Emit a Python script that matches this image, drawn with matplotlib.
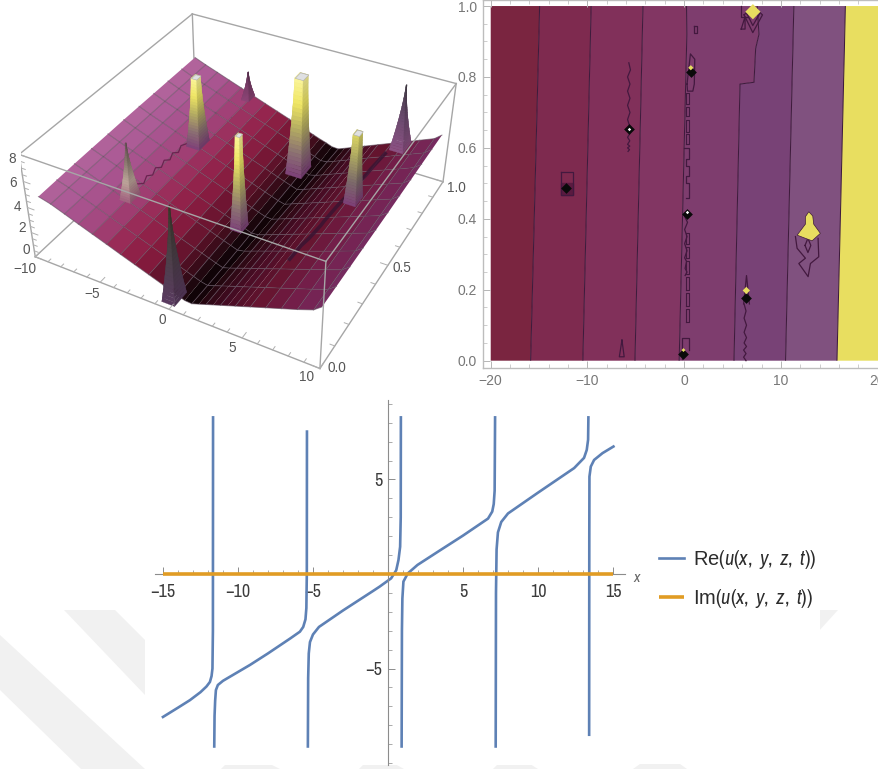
import numpy as np, matplotlib
matplotlib.use('Agg')
import matplotlib.pyplot as plt
from matplotlib.colors import LinearSegmentedColormap as LSC
from matplotlib.patches import Polygon
from matplotlib.ticker import MultipleLocator
from mpl_toolkits.mplot3d.art3d import Poly3DCollection

W, H = 879, 769
NARROW = ['Archivo Narrow', 'Liberation Sans']
plt.rcParams['font.family'] = ['Liberation Sans', 'DejaVu Sans']
plt.rcParams['mathtext.fontset'] = 'custom'
plt.rcParams['mathtext.rm'] = 'Archivo Narrow'
plt.rcParams['mathtext.it'] = 'Archivo Narrow:italic'

# ---------- 3D surface values ----------
surf_x = [-9.9,-9,-8,-7,-6,-5,-4,-3,-2,-1,-.5,0,.5,1,1.5,2,2.5,3,3.5,4,4.5,5,6,7,8,9,9.5]
surf_y = [.05,.145,.24,.335,.43,.525,.62,.715,.81,.905,1]
surf_z = [
 [4.2,3.95,3.55,3.14,2.74,2.34,1.93,1.53,1.13,.73,.52,.32,.12,.08,.27,.47,.66,.86,1.05,1.25,1.44,1.64,2.03,2.42,2.81,3.24,3.7],
 [4.25,3.96,3.56,3.16,2.76,2.36,1.96,1.56,1.16,.76,.56,.36,.16,.04,.24,.44,.64,.83,1.03,1.23,1.43,1.63,2.02,2.42,2.82,3.25,3.7],
 [4.3,3.97,3.57,3.18,2.78,2.38,1.99,1.59,1.19,.79,.6,.4,.2,.02,.2,.4,.61,.81,1.01,1.21,1.41,1.62,2.02,2.42,2.83,3.25,3.7],
 [4.33,3.98,3.59,3.19,2.8,2.4,2.01,1.62,1.22,.83,.63,.43,.24,.04,.16,.37,.58,.78,.99,1.19,1.4,1.6,2.01,2.42,2.84,3.26,3.7],
 [4.35,3.99,3.6,3.21,2.82,2.42,2.03,1.64,1.25,.86,.67,.47,.27,.08,.13,.33,.54,.75,.96,1.17,1.38,1.59,2.01,2.43,2.84,3.26,3.7],
 [4.38,4.0,3.61,3.22,2.83,2.44,2.06,1.67,1.28,.89,.7,.5,.31,.13,.09,.3,.51,.72,.94,1.15,1.36,1.57,2.0,2.42,2.85,3.27,3.7],
 [4.39,4.0,3.62,3.23,2.85,2.46,2.08,1.69,1.31,.92,.73,.54,.35,.17,.04,.26,.48,.69,.91,1.12,1.34,1.56,1.99,2.42,2.85,3.28,3.72],
 [4.39,4.01,3.63,3.25,2.87,2.48,2.1,1.72,1.34,.96,.76,.57,.38,.2,.02,.22,.44,.66,.88,1.1,1.32,1.54,1.98,2.41,2.85,3.29,3.73],
 [4.4,4.02,3.64,3.26,2.88,2.5,2.12,1.74,1.36,.98,.79,.61,.42,.24,.04,.18,.4,.62,.85,1.07,1.29,1.52,1.96,2.41,2.85,3.3,3.75],
 [4.4,4.02,3.65,3.27,2.89,2.52,2.14,1.77,1.39,1.02,.83,.64,.45,.28,.08,.14,.36,.59,.82,1.04,1.27,1.5,1.95,2.4,2.85,3.31,3.76],
 [4.4,4.03,3.66,3.28,2.91,2.54,2.16,1.79,1.42,1.04,.86,.67,.48,.32,.12,.09,.32,.55,.78,1.01,1.24,1.47,1.93,2.39,2.85,3.31,3.77],
]
# peaks, back to front
peak_x   = [-5.2, -5.45, .75, -6.15, 6.65, .2, 6.25, -.1]
peak_y   = [.98, .64, .80, .27, 1.0, .42, .64, .04]
peak_z0  = [2.5, 2.5, .3, 2.6, 1.9, .4, 1.9, .3]
peak_z1  = [4.7, 7.85, 8.0, 6.8, 6.9, 7.7, 7.2, 7.3]
peak_wx  = [.3, .5, .6, .4, .5, .4, .42, .45]
peak_wy  = [.025, .035, .04, .03, .04, .025, .03, .035]
peak_tx  = [.02, .2, .3, .02, .02, .14, .2, .02]
peak_ty  = [.002, .014, .02, .002, .002, .01, .015, .002]
YEL = ['#7d4078', '#8c7272', '#b5ad62', '#efe664', '#fbf59a']
peak_cols = [['#8c4476', '#7a3e68', '#5c3152'], YEL, YEL,
             ['#a0607e', '#bda69a', '#8c7a70', '#6a5458'],
             ['#8c5284', '#6b4a6e', '#403a44'], YEL,
             ['#7d4078', '#7c6a6a', '#a8a262', '#dcd664'],
             ['#5a3a60', '#4c4048', '#3c3c2c']]
peak_cap = [False, True, True, False, False, True, True, False]
# ripples on the slopes (x, y, z)
rip1_x = [5.05,5.25,5.2,5.45,5.3,5.5,5.4,5.6,5.5,5.7,5.6,5.8,5.7,5.95]
rip1_y = [.30,.36,.42,.48,.52,.56,.6,.64,.68,.72,.76,.8,.86,.95]
rip1_z = [1.5,1.8,1.45,1.75,1.45,1.75,1.5,1.75,1.45,1.7,1.45,1.7,1.45,1.65]
rip2_x = [-6.2,-6.0,-6.15,-5.95,-6.1,-5.9,-6.05,-5.85,-6.0,-5.8,-5.95,-5.75]
rip2_y = [.32,.34,.37,.39,.42,.44,.47,.49,.52,.54,.57,.6]
rip2_z = [2.95,2.8,2.97,2.85,3.0,2.85,3.0,2.85,3.0,2.85,3.0,2.9]

# ---------- contour values ----------
cont_y = [0, .78, .785, .88, .92, 1]
cont_edges = [
 [-20, -15.88, -10.48, -5.09, -.52, 5.15, 10.48, 15.8, 20.2],
 [-20, -15.15, -9.81, -4.44, .15, 5.77, 11.15, 16.48, 20.2],
 [-20, -15.15, -9.81, -4.44, .15, 7.22, 11.15, 16.48, 20.2],
 [-20, -15.06, -9.72, -4.36, .24, 7.39, 11.24, 16.57, 20.2],
 [-20, -15.02, -9.69, -4.33, .27, 7.73, 11.27, 16.6, 20.2],
 [-20, -14.95, -9.62, -4.26, .24, 7.56, 11.34, 16.67, 20.2],
]
cont_colors = ['#7a2540', '#7e2a4f', '#81305a', '#823663', '#7e3d6e', '#784276', '#80517f', '#e8de60']
blob_x = [11.68, 12.54, 12.54, 12.89, 13.3, 13.4, 14.09, 13.23, 12.54]
blob_y = [.354, .385, .406, .42, .408, .385, .359, .338, .345]
islands = [
 ([-12.78, -11.51, -11.51, -12.78, -12.78], [.533, .533, .467, .467, .533]),
 ([-5.72, -5.55, -5.85, -5.6, -5.85, -5.6, -5.85, -5.6, -5.85, -5.62, -5.85, -5.62, -5.85, -5.62, -5.85, -5.62, -5.85, -5.65, -5.8],
  [.84, .82, .80, .78, .76, .74, .72, .70, .68, .66, .65, .64, .63, .62, .61, .605, .60, .595, .59]),
 ([11.51, 11.68, 12.54, 11.86, 12.82, 13.06, 13.92, 13.85], [.35, .317, .289, .274, .237, .274, .293, .345]),
 ([12.5, 12.8, 13.1, 12.8, 12.5], [.325, .345, .325, .305, .325]),
 ([-6.43, -6.7, -6.2, -6.43], [.058, .011, .011, .058]),
 ([1.0, 1.3, 1.3, 1.0, 1.0], [.945, .945, .925, .925, .945]),
 ([6.2, 7.1, 8.1, 7.1, 6.2], [.975, .925, .975, 1.0, .975]),
 ([6.5, 7.1, 7.8, 7.1, 6.5], [.978, .945, .978, 1.0, .978]),
 ([5.9, 6.3, 6.3, 5.9], [.935, .97, .935, .935]),
 ([5.9, 5.9, 6.6], [1.0, .97, .97]),
 ([.3, .65, 1.1, 1.05, .9, .35, .3], [.78, .865, .85, .78, .76, .76, .78]),
 ([-.2, -.2, .55, .55], [.005, .065, .065, .03]),
 ([6.15, 6.45, 6.75], [.16, .24, .16]),
 ([6.2, 6.4, 6.2, 6.45, 6.2, 6.45, 6.2, 6.45, 6.15, 6.4, 6.15, 6.4], [.16, .14, .12, .10, .08, .065, .05, .04, .03, .02, .01, 0]),
 ([.0, .35, .05, .3, .05, .3, .05, .25, .1, .3, .1], [.41, .39, .37, .35, .33, .31, .29, .28, .26, .25, .24]),
 ([.0, .5, .5, .15, .15, .5, .5, .2, .2, .55, .55, .15], [.6, .6, .57, .57, .55, .55, .52, .52, .5, .5, .46, .46]),
]
chain_y0 = [.11, .155, .2, .245, .29, .33, .61, .645, .69, .725]
chain_y1 = [.145, .19, .235, .28, .32, .36, .64, .68, .715, .755]
black_x = [-12.2, -5.74, .28, .69, -.07, 6.43]
black_y = [.486, .652, .415, .815, .018, .178]
white_x = [-5.74, .28]
white_y = [.652, .418]
yellow_x = [.69, -.07, 6.43, 7.11]
yellow_y = [.826, .03, .198, .984]
yellow_s = [7, 4, 14, 60]

# ---------- line chart values ----------
re_x = [
 [-15,-14,-13.2,-12.5,-12.1,-11.87,-11.76,-11.7,-11.67,-11.66],
 [-11.58,-11.56,-11.52,-11.47,-11.34,-11.0,-10.68,-9.2,-8,-6.5,-5.87,-5.65,-5.5,-5.44,-5.41,-5.4],
 [-5.34,-5.32,-5.28,-5.2,-5.0,-4.6,-3,-1,-.56,.21,.55,.7,.81,.85,.86],
 [.91,.93,.96,1.03,1.32,1.97,3.43,5,6.67,6.95,7.05,7.11,7.14],
 [7.18,7.2,7.24,7.33,7.55,8,10,12.41,13.07,13.25,13.34,13.36],
 [13.41,13.42,13.43,13.52,13.74,14.3,15.03],
]
re_y = [
 [-7.56,-7.07,-6.67,-6.25,-5.95,-5.71,-5.4,-5.0,-3,8.28],
 [-9.12,-7.5,-6.7,-6.14,-5.87,-5.65,-5.5,-4.81,-4.2,-3.4,-3.05,-2.8,-2.4,-1.8,0,7.53],
 [-9.12,-5.5,-4.2,-3.6,-3.2,-2.8,-1.93,-.9,-.67,-.23,.2,.74,1.44,3,8.28],
 [-9.12,-3,-1.3,-.4,.03,.48,1.23,2.03,2.93,3.3,3.7,4.4,8.28],
 [-9.12,-1,1.3,2.2,2.75,3.2,4.3,5.6,6.14,6.56,7.1,8.28],
 [-8.5,2,5.15,5.68,6.03,6.39,6.74],
]
im_x = [-15, 15]
im_y = [0, 0]
x_major = [-15, -10, -5, 5, 10, 15]
y_major = [-5, 5]
x_major_labels = ['\u221215', '\u221210', '\u22125', '5', '10', '15']
y_major_labels = ['\u22125', '5']
legend_labels = [r'Re$(u(x,\ y,\ z,\ t))$', r'Im$(u(x,\ y,\ z,\ t))$']

fig = plt.figure(figsize=(W/100, H/100), dpi=100, facecolor='white')
def fx(p): return p/W
def fy(p): return 1-p/H
def ptext(px, py, s, **kw):
    kw.setdefault('ha', 'center'); kw.setdefault('va', 'center')
    fig.text(fx(px), fy(py), s, **kw)

# watermark shapes behind everything
for poly in [[(64,610),(115,610),(145,640),(145,695)], [(0,635),(0,690),(81,769),(145,769)],
             [(221,769),(226,764),(270,764),(280,769)], [(359,769),(364,764),(395,764),(404,769)],
             [(493,769),(498,764),(530,764),(538,769)], [(633,769),(640,764),(680,764),(687,769)],
             [(818,610),(838,610),(818,632)]]:
    fig.add_artist(Polygon([(fx(a), fy(b)) for a, b in poly], closed=True, transform=fig.transFigure,
                           facecolor='#f1f1f1', edgecolor='none', zorder=-5))

# ---------- panel 1: 3D ----------
S, TX, TY = 2391.82, 248.186, 169.167
ax3 = fig.add_axes([0, 0, 1, 1], projection='3d', computed_zorder=False)
ax3.patch.set_alpha(0)
ax3.set_xlim(-10, 10); ax3.set_ylim(0, 1); ax3.set_zlim(0, 8)
ax3.view_init(36.3443, -61.387, 0.0768)
ax3.set_proj_type('persp', focal_length=.4451)
ax3.set_box_aspect((1.0068, 1, .4024))
vx0, vy0, vw, vh = ax3.viewLim.bounds
left = TX + S*vx0
top = TY - S*(vy0+vh)
size = S*vw
ax3.set_position([fx(left), fy(top+size), size/W, size/H])
ax3.set_axis_off()

X, Y = np.meshgrid(surf_x, surf_y)
Z = np.array(surf_z)
left_cm = LSC.from_list('l', [(0,'#070103'),(.06,'#220810'),(.14,'#4a0e20'),(.28,'#80193a'),(.45,'#972650'),(.62,'#a2457c'),(.8,'#aa5894'),(1,'#b4689e')])
right_cm = LSC.from_list('r', [(0,'#070103'),(.1,'#2a0812'),(.25,'#470c24'),(.45,'#66142f'),(.7,'#751f4c'),(.88,'#762a5e'),(1,'#7a3068')])
fc = np.zeros(Z.shape + (4,))
valley = Z.argmin(axis=1)
for r in range(Z.shape[0]):
    for c in range(Z.shape[1]):
        zc = Z[r, c]
        if c < Z.shape[1]-1 and r < Z.shape[0]-1:
            zc = Z[r:r+2, c:c+2].mean()
        fc[r, c] = left_cm(zc/4.5) if c < valley[r] else right_cm(zc/3.9)
box = '#a6a6a6'
back_edges = [((-10,1,0),(10,1,0)), ((-10,0,0),(-10,1,0)), ((-10,1,0),(-10,1,8)), ((10,1,0),(10,1,8))]
front_edges = [((-10,0,0),(10,0,0)), ((10,0,0),(10,1,0)), ((-10,0,0),(-10,0,8)), ((10,0,0),(10,0,8)),
               ((-10,0,8),(10,0,8)), ((10,0,8),(10,1,8)), ((-10,1,8),(10,1,8)), ((-10,0,8),(-10,1,8))]
for a, b in back_edges:
    ax3.plot(*zip(a, b), color=box, lw=1.0, zorder=1)
ax3.plot_surface(X, Y, Z, facecolors=fc, rstride=1, cstride=1, shade=False, linewidth=0.25,
                 edgecolor=None, antialiased=True, zorder=2)
for c in range(0, Z.shape[1]):
    if surf_x[c] in (-.5, .5, 1.5, 2.5, 3.5, 4.5, 9.5, -9.9):
        continue
    ax3.plot(X[:, c], Y[:, c], Z[:, c], color='#5c4a5a', alpha=.6, lw=.7, zorder=3)
for r in range(Z.shape[0]):
    ax3.plot(X[r], Y[r], Z[r], color='#5c4a5a', alpha=.6, lw=.7, zorder=3)
ax3.plot(rip1_x, rip1_y, rip1_z, color='#3a1432', alpha=.85, lw=2.6, zorder=4)
ax3.plot(rip2_x, rip2_y, rip2_z, color='#6a2450', lw=.9, zorder=4)

ring = np.array([[-1,-1],[1,-1],[1,1],[-1,1],[-1,-1]], float)
side_shade = [1.0, .85, .8, .95, 1.0]
t = np.linspace(0, 1, 25)
for i in range(len(peak_x)):
    cm = LSC.from_list('p%d' % i, peak_cols[i])
    w = (1-t)**1.5
    wx = peak_tx[i] + (peak_wx[i]-peak_tx[i])*w
    wy = peak_ty[i] + (peak_wy[i]-peak_ty[i])*w
    PX = peak_x[i] + np.outer(wx, ring[:, 0])
    PY = peak_y[i] + np.outer(wy, ring[:, 1])
    PZ = np.outer(peak_z0[i] + (peak_z1[i]-peak_z0[i])*t, np.ones(5))
    col = np.zeros(PZ.shape+(4,))
    for a in range(len(t)):
        base = np.array(cm(min(1, t[a]+.02)))
        for b in range(5):
            col[a, b] = np.r_[base[:3]*side_shade[b], 1]
    ax3.plot_surface(PX, PY, PZ, facecolors=col, rstride=1, cstride=1, shade=False, linewidth=0.2,
                     antialiased=True, zorder=5+i)
    if peak_cap[i]:
        cap = [list(zip(PX[-1], PY[-1], PZ[-1]))]
        ax3.add_collection3d(Poly3DCollection(cap, facecolor='#dfe0e2', edgecolor='#b0b0b0', lw=.4, zorder=5.5+i))
for a, b in front_edges:
    ax3.plot(*zip(a, b), color=box, lw=1.0, zorder=30)
tick_col = '#b0b0b0'
for v in np.arange(-10, 10.1, 1):
    m = v % 5 == 0
    ax3.plot([v, v], [0, .025 if m else .015], [0, 0], color=tick_col, lw=.7, zorder=31)
for v in np.arange(0, 1.01, .1):
    m = round(v*10) % 5 == 0
    ax3.plot([10, 9.5 if m else 9.7], [v, v], [0, 0], color=tick_col, lw=.7, zorder=31)
for v in np.arange(0, 8.1, .5):
    m = (v % 2) == 0
    ax3.plot([-10, -9.5 if m else -9.7], [0, 0], [v, v], color=tick_col, lw=.7, zorder=31)
t3 = dict(fontsize=9.8, color='#565656')
for (px, py, s) in [(12,159,'8'),(13,183,'6'),(18,207,'4'),(22,228,'2'),(26,250,'0'),(25,269,'\u221210'),
                    (92,294,'\u22125'),(162,320,'0'),(232,348,'5'),(306,377,'10'),(337,368,'0.0'),(402,268,'0.5'),(456,188,'1.0')]:
    ptext(px, py, s, **t3)

# ---------- panel 2: contour ----------
axc = fig.add_axes([fx(482.7), fy(368), (879-482.7)/W, 368/H])
axc.set_xlim(-20.83, 20.15); axc.set_ylim(-.0206, 1.017)
CX = np.array(cont_edges)
CY = np.outer(cont_y, np.ones(CX.shape[1]))
CZ = np.outer(np.ones(len(cont_y)), np.arange(CX.shape[1]))
lv = [0] + [i+1e-3 for i in range(1, 8)] + [8]
axc.contourf(CX, CY, CZ, levels=lv, colors=cont_colors, antialiased=True)
axc.contour(CX, CY, CZ, levels=lv[1:-1], colors='#3e1b3c', linewidths=.75)
axc.fill(blob_x, blob_y, color='#e8de60', ec='#3e1b3c', lw=.5, zorder=4)
axc.fill([-12.78, -11.51, -11.51, -12.78], [.50, .50, .467, .467], color='#5a1a40', zorder=3)
for xs_, ys_ in islands:
    axc.plot(xs_, ys_, color='#43193f', lw=.9, zorder=3)
for a, b in zip(chain_y0, chain_y1):
    axc.plot([.15, .5, .5, .15, .15], [a, a, b, b, a], color='#43193f', lw=.8, zorder=3)
axc.scatter(black_x, black_y, s=30, c='#0a0a0a', marker='D', lw=0, zorder=5)
axc.scatter(white_x, white_y, s=3, c='white', marker='D', lw=0, zorder=6)
axc.scatter(yellow_x, yellow_y, s=yellow_s, c='#e8de60', marker='D', lw=0, zorder=6)
axc.spines['right'].set_visible(False)
for s_ in ['left', 'bottom', 'top']:
    axc.spines[s_].set_color('#bdbdbd'); axc.spines[s_].set_linewidth(1)
axc.set_xticks([-20, -10, 0, 10, 20]); axc.set_xticklabels(['\u221220', '\u221210', '0', '10', '20'])
axc.set_yticks([0, .2, .4, .6, .8, 1.0]); axc.set_yticklabels(['0.0', '0.2', '0.4', '0.6', '0.8', '1.0'])
axc.xaxis.set_minor_locator(MultipleLocator(2)); axc.yaxis.set_minor_locator(MultipleLocator(.05))
axc.tick_params(axis='both', which='major', direction='in', length=5, width=.7, color='#b5b5b5', labelsize=10, labelcolor='#777777', top=True, pad=4)
axc.tick_params(axis='both', which='minor', direction='in', length=3, width=.6, color='#c5c5c5', top=True)

# ---------- panel 3: lines ----------
fig.add_artist(Polygon([(fx(a), fy(b)) for a, b in [(145,395),(820,395),(820,755),(145,755)]], closed=True,
                       transform=fig.transFigure, facecolor='white', edgecolor='none', zorder=-4))
axl = fig.add_axes([fx(155), fy(765), 470/W, 365/H])
axl.set_xlim(-15.53, 15.8); axl.set_ylim(-10.1, 9.2)
blue, orange = '#5e81b5', '#e19c24'
for i, (bx, by) in enumerate(zip(re_x, re_y)):
    axl.plot(bx, by, color=blue, lw=1.9, solid_joinstyle='round', label=legend_labels[0] if i == 0 else None, zorder=2)
axl.plot(im_x, im_y, color=orange, lw=2.6, label=legend_labels[1], zorder=3, solid_capstyle='butt')
for s_ in ['top', 'right']:
    axl.spines[s_].set_visible(False)
for s_ in ['left', 'bottom']:
    axl.spines[s_].set_position(('data', 0)); axl.spines[s_].set_color('#8c8c8c'); axl.spines[s_].set_linewidth(.8)
axl.set_xticks(x_major); axl.set_xticklabels(x_major_labels, fontfamily=NARROW)
axl.set_yticks(y_major); axl.set_yticklabels(y_major_labels, fontfamily=NARROW)
axl.xaxis.set_minor_locator(MultipleLocator(1)); axl.yaxis.set_minor_locator(MultipleLocator(1))
axl.tick_params(axis='both', which='major', direction='in', length=5, width=.7, color='#8c8c8c', labelsize=13, labelcolor='#3c3c3c', pad=4)
axl.tick_params(axis='x', which='major', pad=7)
axl.tick_params(axis='both', which='minor', direction='in', length=3, width=.6, color='#9c9c9c')
ptext(637, 578, 'x', fontsize=11, color='#666666', style='italic', fontfamily=NARROW)
h, l = axl.get_legend_handles_labels()
fig.legend(h, l, loc='center left', bbox_to_anchor=(fx(641), fy(579)), frameon=False, fontsize=14.5,
           labelspacing=.78, handlelength=1.24, handletextpad=.45, labelcolor='#2c2c2c')

fig.savefig('out.png', dpi=100)
